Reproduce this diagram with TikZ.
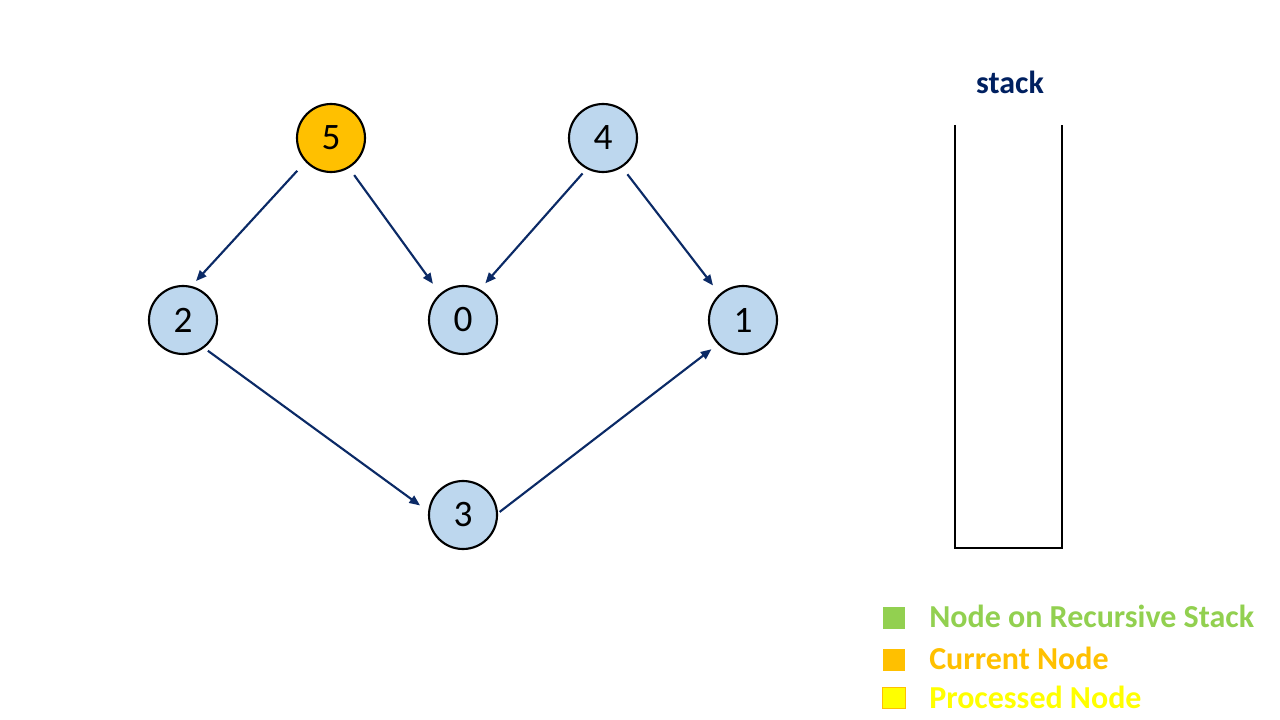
\documentclass[tikz,border=0pt]{standalone}
\usepackage{fontspec}
\setmainfont{Carlito}
\usetikzlibrary{arrows.meta}
\definecolor{vertexfill}{HTML}{BDD7EE}
\definecolor{edgeblue}{HTML}{0B2A66}
\definecolor{titleblue}{HTML}{002060}
\definecolor{onstack}{HTML}{92D050}
\definecolor{current}{HTML}{FFC000}
\definecolor{processed}{HTML}{FFFF00}
\tikzset{
  vertex/.style={circle, draw=black, line width=1.6pt, fill=vertexfill,
    minimum size=51pt, inner sep=0pt, font=\fontsize{28}{30}\selectfont},
  currentvertex/.style={vertex, fill=current},
  dagedge/.style={draw=edgeblue, line width=1.6pt,
    -{Triangle[length=8pt,width=6.5pt]}},
  stackwall/.style={draw=black, line width=1.6pt},
  legendbox/.style={minimum width=17pt, minimum height=16pt, inner sep=0pt},
  legendtext/.style={anchor=west, inner sep=0pt, font=\fontsize{24}{26}\selectfont\bfseries}
}
\begin{document}
\begin{tikzpicture}[x=0.75pt, y=-0.75pt]
  \useasboundingbox (0,0) rectangle (1280,720);

  % graph vertices
  \node[currentvertex] (n5) at (331,138) {5};
  \node[vertex] (n4) at (603,138) {4};
  \node[vertex] (n2) at (183,320) {2};
  \node[vertex] (n0) at (463,320) {0};
  \node[vertex] (n1) at (743,320) {1};
  \node[vertex] (n3) at (463,515) {3};

  % directed edges
  \draw[dagedge, shorten <=9pt, shorten >=5pt] (n5.223) -- (n2.76);
  \draw[dagedge, shorten <=6.5pt, shorten >=9pt] (n5.301) -- (n0.131);
  \draw[dagedge, shorten <=4.5pt, shorten >=6pt] (n4.242) -- (n0.61);
  \draw[dagedge, shorten <=6.5pt, shorten >=8pt] (n4.303) -- (n1.132);
  \draw[dagedge, shorten <=3.5pt, shorten >=7.5pt] (n2.307) -- (n3.174);
  \draw[dagedge, shorten <=1.5pt, shorten >=6pt] (n3.3) -- (n1.224);

  % stack container
  \node[font=\fontsize{24}{26}\selectfont\bfseries, text=titleblue] (stacklabel) at (1010,82) {stack};
  \coordinate (stl) at (955,125);
  \coordinate (sbl) at (955,548);
  \coordinate (sbr) at (1062,548);
  \coordinate (str) at (1062,125);
  \draw[stackwall] (stl) -- (sbl) -- (sbr) -- (str);

  % legend
  \node[legendbox, fill=onstack] (keygreen) at (894,618) {};
  \node[legendbox, fill=current] (keyorange) at (894,660) {};
  \node[legendbox, fill=processed, draw=current, line width=0.6pt] (keyyellow) at (894,698) {};
  \node[legendtext, text=onstack] (txtgreen) at (929,616) {Node on Recursive Stack};
  \node[legendtext, text=current] (txtorange) at (929,658) {Current Node};
  \node[legendtext, text=processed] (txtyellow) at (929,697) {Processed Node};
\end{tikzpicture}
\end{document}
